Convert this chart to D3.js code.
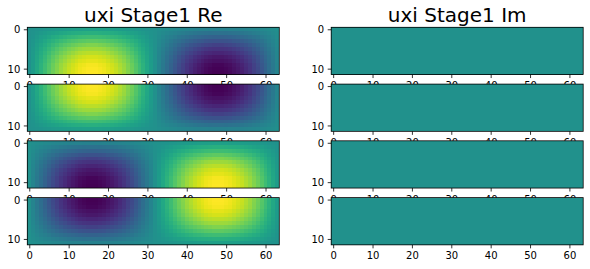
<!DOCTYPE html>
<html><head><meta charset="utf-8">
<script src="https://cdn.jsdelivr.net/npm/d3@7"></script>
<style>html,body{margin:0;padding:0;background:#fff;}svg{display:block;}</style>
</head><body>
<svg id="chart" width="590" height="269"></svg>
<script>
// ---- data ----
const titles = ["uxi Stage1 Re", "uxi Stage1 Im"];
const nCols = 64, nRows = 12;
const xTicks = [0, 10, 20, 30, 40, 50, 60];
const yTicks = [0, 10];
// horizontal profile of the real part (one value per column)
const colProfile = [0.00,0.10,0.20,0.29,0.38,0.47,0.56,0.63,0.71,0.77,0.83,0.88,0.92,0.96,0.98,1.00,
                    1.00,1.00,0.98,0.96,0.92,0.88,0.83,0.77,0.71,0.63,0.56,0.47,0.38,0.29,0.20,0.10,
                    0.00,-0.10,-0.20,-0.29,-0.38,-0.47,-0.56,-0.63,-0.71,-0.77,-0.83,-0.88,-0.92,-0.96,-0.98,-1.00,
                    -1.00,-1.00,-0.98,-0.96,-0.92,-0.88,-0.83,-0.77,-0.71,-0.63,-0.56,-0.47,-0.38,-0.29,-0.20,-0.10];
// vertical profiles (one value per row)
const rowRising  = [0.13,0.26,0.38,0.50,0.61,0.71,0.79,0.87,0.92,0.97,0.99,1.00];
const rowFalling = [1.00,0.99,0.97,0.92,0.87,0.79,0.71,0.61,0.50,0.38,0.26,0.13];
// per panel row: sign of the real part and which vertical profile
const reSign = [1, 1, -1, -1];
const reRowProfile = [rowRising, rowFalling, rowRising, rowFalling];
// imaginary part: essentially zero everywhere
const imLevel = [0, 0, 0, 0];

// ---- layout ----
const svg = d3.select("#chart");
const cell = 3.9375;
const panelW = nCols * cell, panelH = nRows * cell;
const colX0 = [27.3, 331.2];
const rowY0 = [27.3, 84.1, 140.8, 197.6];
const color = d3.scaleSequential(d3.interpolateViridis).domain([-1, 1]);
const font = "DejaVu Sans, sans-serif";

function drawPanel(r, c) {
  const x0 = colX0[c], y0 = rowY0[r];
  const x = d3.scaleLinear().domain([-0.5, nCols - 0.5]).range([x0, x0 + panelW]);
  const y = d3.scaleLinear().domain([-0.5, nRows - 0.5]).range([y0, y0 + panelH]);
  const cells = [];
  for (let j = 0; j < nRows; j++) for (let i = 0; i < nCols; i++) {
    const v = c === 0 ? reSign[r] * colProfile[i] * reRowProfile[r][j] : imLevel[r];
    cells.push({i, j, v});
  }
  const g = svg.append("g");
  g.append("rect").attr("x", x0).attr("y", y0).attr("width", panelW).attr("height", panelH).attr("fill", "#fff");
  g.selectAll("rect.cell").data(cells).join("rect").attr("class", "cell")
    .attr("x", d => x(d.i - 0.5)).attr("y", d => y(d.j - 0.5))
    .attr("width", d => Math.min(cell + 0.5, x(nCols - 0.5) - x(d.i - 0.5)))
    .attr("height", d => Math.min(cell + 0.5, y(nRows - 0.5) - y(d.j - 0.5)))
    .attr("shape-rendering", "crispEdges")
    .attr("fill", d => color(d.v));
  // frame
  g.append("rect").attr("x", x0).attr("y", y0).attr("width", panelW).attr("height", panelH)
    .attr("fill", "none").attr("stroke", "#000").attr("stroke-width", 0.8);
  // x axis
  const xa = g.append("g").attr("transform", `translate(0,${y0 + panelH})`)
    .call(d3.axisBottom(x).tickValues(xTicks).tickSize(3.5).tickPadding(3.5).tickFormat(d3.format("d")));
  // y axis
  const ya = g.append("g").attr("transform", `translate(${x0},0)`)
    .call(d3.axisLeft(y).tickValues(yTicks).tickSize(3.5).tickPadding(3.5).tickFormat(d3.format("d")));
  [xa, ya].forEach(a => {
    a.select(".domain").remove();
    a.selectAll(".tick line").attr("stroke", "#000").attr("stroke-width", 0.8);
    a.selectAll(".tick text").attr("fill", "#000").style("font-family", font).style("font-size", "10px");
  });
  xa.selectAll(".tick text").attr("dy", "0.76em");
  ya.selectAll(".tick text").attr("dy", "0.36em");
  if (r === 0) {
    g.append("text").attr("x", x0 + panelW / 2).attr("y", y0 - 5.2)
      .attr("text-anchor", "middle").style("font-family", font).style("font-size", "20px")
      .attr("fill", "#000").text(titles[c]);
  }
}
for (let r = 0; r < 4; r++) for (let c = 0; c < 2; c++) drawPanel(r, c);
</script>
</body></html>
